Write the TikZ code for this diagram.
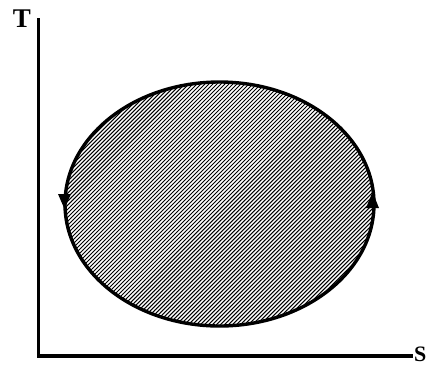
\documentclass[tikz,border=0pt]{standalone}
\usepackage{fontspec}
\setmainfont{Liberation Serif}
\usetikzlibrary{patterns.meta}
\tikzset{
  axis/.style={line width=3.4pt},
  cycle/.style={line width=3.4pt, pattern={Lines[angle=45,distance=2.83pt,line width=1pt]}},
  lbl/.style={font=\fontsize{27}{30}\selectfont\bfseries, inner sep=0pt},
  slbl/.style={font=\fontsize{22}{24}\selectfont\bfseries, inner sep=0pt},
  tip/.style={fill=black}
}
\begin{document}
\begin{tikzpicture}[x=1pt,y=-1pt]
\useasboundingbox (0,0) rectangle (427,365);
\coordinate (o) at (38.5,356);
\coordinate (ytop) at (38.5,18);
\coordinate (xend) at (413,356);
\draw[axis] (ytop) -- (o) -- (xend);
\node[lbl] (T) at (22,19) {T};
\node[slbl, anchor=east] (S) at (426.5,354.5) {S};
\draw[cycle] (219.5,204) ellipse [x radius=154.5, y radius=122];
\fill[tip] (58,194) -- (71,194) -- (64.5,209) -- cycle;
\fill[tip] (366,208) -- (379,208) -- (372.5,192) -- cycle;
\end{tikzpicture}
\end{document}
